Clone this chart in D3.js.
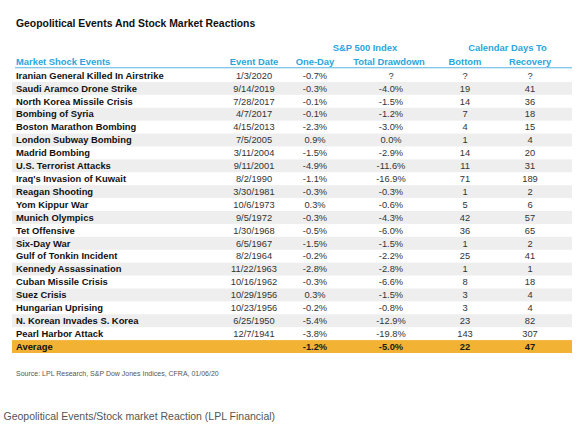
<!DOCTYPE html>
<html>
<head>
<meta charset="utf-8">
<script src="https://cdn.jsdelivr.net/npm/d3@7"></script>
<style>
  body { margin: 0; background: #fff; }
  svg { display: block; font-family: "Liberation Sans", Arial, sans-serif; }
</style>
</head>
<body>
<svg id="chart"></svg>
<script>
const events = [
    "Iranian General Killed In Airstrike", "Saudi Aramco Drone Strike", "North Korea Missile Crisis",
    "Bombing of Syria", "Boston Marathon Bombing", "London Subway Bombing", "Madrid Bombing",
    "U.S. Terrorist Attacks", "Iraq's Invasion of Kuwait", "Reagan Shooting", "Yom Kippur War",
    "Munich Olympics", "Tet Offensive", "Six-Day War", "Gulf of Tonkin Incident",
    "Kennedy Assassination", "Cuban Missile Crisis", "Suez Crisis", "Hungarian Uprising",
    "N. Korean Invades S. Korea", "Pearl Harbor Attack"
];
const eventDates = [
    "1/3/2020", "9/14/2019", "7/28/2017", "4/7/2017", "4/15/2013", "7/5/2005", "3/11/2004",
    "9/11/2001", "8/2/1990", "3/30/1981", "10/6/1973", "9/5/1972", "1/30/1968", "6/5/1967",
    "8/2/1964", "11/22/1963", "10/16/1962", "10/29/1956", "10/23/1956", "6/25/1950", "12/7/1941"
];
const oneDay = [-0.7, -0.3, -0.1, -0.1, -2.3, 0.9, -1.5, -4.9, -1.1, -0.3, 0.3, -0.3, -0.5, -1.5,
    -0.2, -2.8, -0.3, 0.3, -0.2, -5.4, -3.8];
const totalDrawdown = [null, -4.0, -1.5, -1.2, -3.0, 0.0, -2.9, -11.6, -16.9, -0.3, -0.6, -4.3, -6.0, -1.5,
    -2.2, -2.8, -6.6, -1.5, -0.8, -12.9, -19.8];
const daysToBottom = [null, 19, 14, 7, 4, 1, 14, 11, 71, 1, 5, 42, 36, 1, 25, 1, 8, 3, 3, 23, 143];
const daysToRecovery = [null, 41, 36, 18, 15, 4, 20, 31, 189, 2, 6, 57, 65, 2, 41, 1, 18, 4, 4, 82, 307];
const averageRow = {oneDay: -1.2, drawdown: -5.0, bottom: 22, recovery: 47};

const colKeys = ["date", "oneDay", "drawdown", "bottom", "recovery"];
const colHeaders = ["Event Date", "One-Day", "Total Drawdown", "Bottom", "Recovery"];

const width = 578, height = 427;
const svg = d3.select("#chart")
    .attr("width", width)
    .attr("height", height)
    .attr("viewBox", [0, 0, width, height]);

const loc = d3.formatLocale({decimal: ".", thousands: ",", grouping: [3], currency: ["$", ""], minus: "-"});
const pct = v => v == null ? "?" : loc.format(".1f")(v) + "%";
const num = v => v == null ? "?" : String(v);

const rows = events.map((name, i) => ({
    name,
    date: eventDates[i],
    oneDay: pct(oneDay[i]),
    drawdown: pct(totalDrawdown[i]),
    bottom: num(daysToBottom[i]),
    recovery: num(daysToRecovery[i]),
    avg: false
}));
rows.push({
    name: "Average", date: "",
    oneDay: pct(averageRow.oneDay), drawdown: pct(averageRow.drawdown),
    bottom: num(averageRow.bottom), recovery: num(averageRow.recovery),
    avg: true
});

const left = 12, right = 572, textLeft = 16;

const y = d3.scaleBand()
    .domain(rows.map(d => d.name))
    .range([69, 353]);

const x = d3.scaleOrdinal()
    .domain(colKeys)
    .range([254, 315, 391, 465, 530]);

// title
svg.append("text")
    .attr("x", textLeft)
    .attr("y", 23)
    .attr("dy", "0.35em")
    .attr("fill", "#111")
    .style("font-size", "10.4px")
    .style("font-weight", "bold")
    .text("Geopolitical Events And Stock Market Reactions");

// row backgrounds
svg.append("g")
    .selectAll("rect")
    .data(rows.filter((d, i) => d.avg || i % 2 === 1))
    .join("rect")
    .attr("x", left)
    .attr("y", d => y(d.name))
    .attr("width", right - left)
    .attr("height", y.bandwidth())
    .attr("fill", d => d.avg ? "#f2b234" : "#eeeeee");

// group headers
const blue = "#2aa6de";
const header = svg.append("g")
    .attr("fill", blue)
    .style("font-size", "9.4px")
    .style("font-weight", "bold");

header.selectAll("text.group")
    .data([
        {label: "S&P 500 Index", cols: ["oneDay", "drawdown"]},
        {label: "Calendar Days To", cols: ["bottom", "recovery"]}
    ])
    .join("text")
    .attr("class", "group")
    .attr("x", d => d3.mean(d.cols, c => x(c)) + (d.cols[0] === "oneDay" ? 12 : 10))
    .attr("y", 48)
    .attr("dy", "0.35em")
    .attr("text-anchor", "middle")
    .text(d => d.label);

header.append("text")
    .attr("x", textLeft)
    .attr("y", 62)
    .attr("dy", "0.35em")
    .text("Market Shock Events");

header.selectAll("text.col")
    .data(colKeys)
    .join("text")
    .attr("class", "col")
    .attr("x", d => x(d) + (d === "drawdown" ? -2 : 0))
    .attr("y", 62)
    .attr("dy", "0.35em")
    .attr("text-anchor", "middle")
    .text((d, i) => colHeaders[i]);

svg.append("line")
    .attr("x1", textLeft - 1)
    .attr("x2", right)
    .attr("y1", 67.8)
    .attr("y2", 67.8)
    .attr("stroke", "#5ab5e2")
    .attr("stroke-width", 1.1);

// row labels
svg.append("g")
    .style("font-size", "9.4px")
    .style("font-weight", "bold")
    .attr("fill", "#111")
    .selectAll("text")
    .data(rows)
    .join("text")
    .attr("x", textLeft)
    .attr("y", d => y(d.name) + y.bandwidth() / 2)
    .attr("dy", "0.35em")
    .text(d => d.name);

// cells
const cells = rows.flatMap(r => colKeys.map(k => ({row: r, key: k, value: r[k]})));
svg.append("g")
    .style("font-size", "9.3px")
    .attr("text-anchor", "middle")
    .selectAll("text")
    .data(cells)
    .join("text")
    .attr("x", d => x(d.key))
    .attr("y", d => y(d.row.name) + y.bandwidth() / 2)
    .attr("dy", "0.35em")
    .attr("fill", d => d.row.avg ? "#1a1a1a" : "#333")
    .style("font-weight", d => d.row.avg ? "bold" : "normal")
    .text(d => d.value);

// source note
svg.append("text")
    .attr("x", textLeft)
    .attr("y", 373.5)
    .attr("dy", "0.35em")
    .attr("fill", "#555")
    .style("font-size", "7px")
    .text("Source: LPL Research, S&P Dow Jones Indices, CFRA, 01/06/20");

// caption
svg.append("text")
    .attr("x", 3.5)
    .attr("y", 416.5)
    .attr("dy", "0.35em")
    .attr("fill", "#555")
    .style("font-size", "10.5px")
    .text("Geopolitical Events/Stock market Reaction (LPL Financial)");
</script>
</body>
</html>
